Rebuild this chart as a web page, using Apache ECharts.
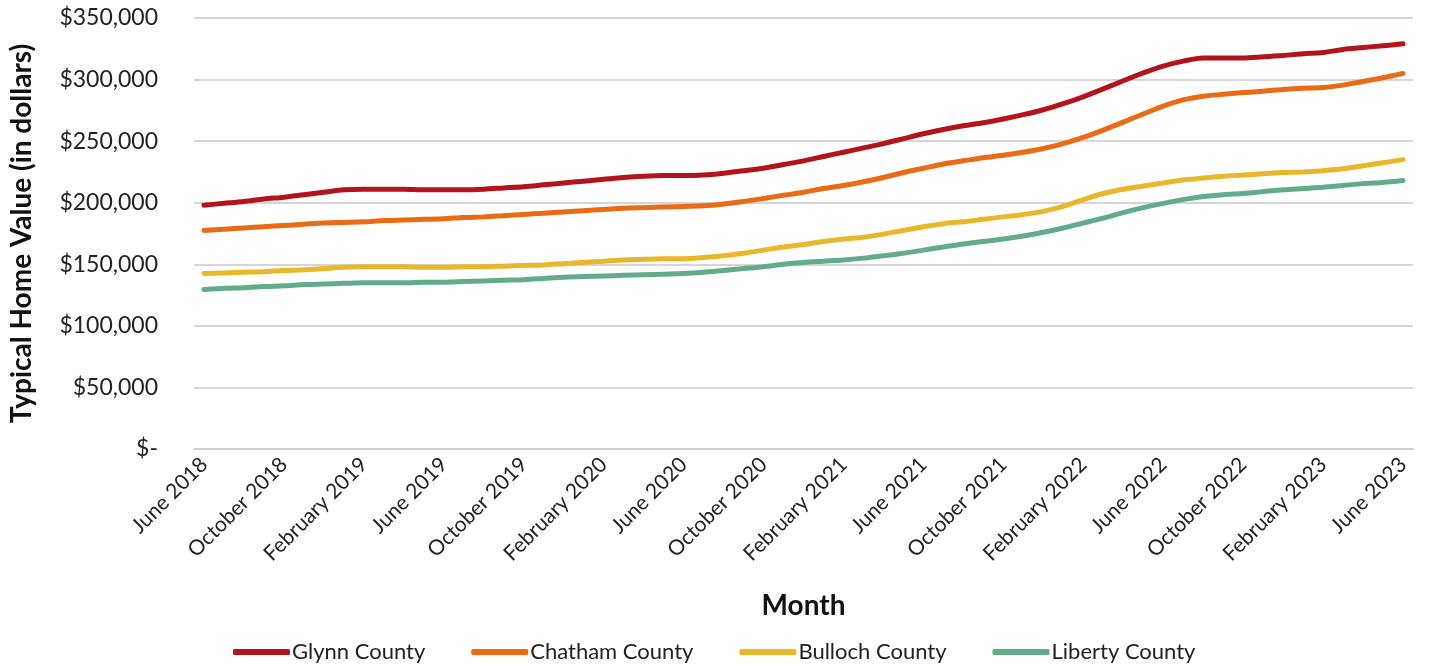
<!DOCTYPE html>
<html>
<head>
<meta charset="utf-8">
<script src="https://cdn.jsdelivr.net/npm/echarts@6/dist/echarts.min.js"></script>
<style>
  html, body { margin: 0; padding: 0; background: #fff; }
  #chart { width: 1442px; height: 666px; }
</style>
</head>
<body>
<div id="chart"></div>
<script>
// months, June 2018 - June 2023
const months = [
  'June 2018', 'July 2018', 'August 2018', 'September 2018', 'October 2018', 'November 2018', 'December 2018',
  'January 2019', 'February 2019', 'March 2019', 'April 2019', 'May 2019', 'June 2019', 'July 2019',
  'August 2019', 'September 2019', 'October 2019', 'November 2019', 'December 2019',
  'January 2020', 'February 2020', 'March 2020', 'April 2020', 'May 2020', 'June 2020', 'July 2020',
  'August 2020', 'September 2020', 'October 2020', 'November 2020', 'December 2020',
  'January 2021', 'February 2021', 'March 2021', 'April 2021', 'May 2021', 'June 2021', 'July 2021',
  'August 2021', 'September 2021', 'October 2021', 'November 2021', 'December 2021',
  'January 2022', 'February 2022', 'March 2022', 'April 2022', 'May 2022', 'June 2022', 'July 2022',
  'August 2022', 'September 2022', 'October 2022', 'November 2022', 'December 2022',
  'January 2023', 'February 2023', 'March 2023', 'April 2023', 'May 2023', 'June 2023'
]

const seriesNames = ['Glynn County', 'Chatham County', 'Bulloch County', 'Liberty County']

const glynn = [
  198000, 199500, 201000, 203000, 204500, 206500, 208500, 210500, 211000, 211000,
  211000, 210500, 210500, 210500, 211000, 212000, 213000, 214500, 216000, 217500,
  219000, 220500, 221500, 222000, 222000, 222500, 224000, 226000, 228000, 231000,
  234000, 237500, 241000, 244500, 248000, 252000, 256000, 259500, 262500, 265000,
  268000, 271500, 275500, 280500, 286000, 292500, 299000, 305500, 311000, 315000,
  317500, 317500, 317500, 318500, 319500, 321000, 322000, 324500, 326000, 327500,
  329000
]

const chatham = [
  177500, 178500, 179500, 180500, 181500, 182500, 183500, 184000, 184500, 185500,
  186000, 186500, 187000, 188000, 188500, 189500, 190500, 191500, 192500, 193500,
  194500, 195500, 196000, 196500, 197000, 197500, 199000, 201000, 203500, 206000,
  208500, 211500, 214000, 217000, 220500, 224500, 228000, 231500, 234000, 236500,
  238500, 241000, 244000, 248000, 253000, 259000, 265500, 272000, 278500, 283500,
  286500, 288000, 289500, 290500, 292000, 293000, 293500, 295500, 298500, 301500,
  305000
]

const bulloch = [
  142500, 143000, 143500, 144000, 145000, 145500, 146500, 147500, 148000, 148000,
  148000, 147500, 147500, 148000, 148000, 148500, 149000, 149500, 150500, 151500,
  152500, 153500, 154000, 154500, 154500, 155500, 157000, 159000, 161500, 164000,
  166000, 168500, 170500, 172000, 174500, 177500, 180500, 183000, 184500, 186500,
  188500, 190500, 193000, 197000, 202500, 207500, 211000, 213500, 216000, 218500,
  220000, 221500, 222500, 223500, 224500, 225000, 226000, 227500, 230000, 232500,
  235000
]

const liberty = [
  129500, 130500, 131000, 132000, 132500, 133500, 134000, 134500, 135000, 135000,
  135000, 135500, 135500, 136000, 136500, 137000, 137500, 138500, 139500, 140000,
  140500, 141000, 141500, 142000, 142500, 143500, 145000, 146500, 148000, 150000,
  151500, 152500, 153500, 155000, 157000, 159000, 161500, 164000, 166500, 168500,
  170500, 173000, 176000, 179500, 183500, 187500, 192000, 196000, 199500, 202500,
  205000, 206500, 207500, 209000, 210500, 211500, 212500, 214000, 215500, 216500,
  218000
]

const colors = ['#B3141B', '#EB6A14', '#E8B82A', '#62AC8A']

function money (v) {
  if (v === 0) return '$-'
  return '$' + v.toLocaleString('en-US')
}

let myChart = echarts.init(document.getElementById('chart'), null, { renderer: 'canvas' })
const font = 'Lato, "Noto Sans", sans-serif'

let option = {
  animation: false,
  color: colors,
  textStyle: { fontFamily: font },
  grid: { left: 189, right: 29, top: 18, bottom: 217, containLabel: false },
  legend: {
    data: seriesNames,
    left: 228,
    top: 636,
    icon: 'roundRect',
    itemWidth: 57,
    itemHeight: 6,
    itemGap: 46,
    textStyle: { fontFamily: font, fontSize: 22, color: '#222', padding: [0, 0, 0, -3] }
  },
  xAxis: {
    type: 'category',
    data: months,
    boundaryGap: true,
    name: 'Month',
    nameLocation: 'middle',
    nameGap: 143,
    nameTextStyle: { fontFamily: font, fontSize: 28, fontWeight: 'bold', color: '#111' },
    axisLine: { lineStyle: { color: '#d0d0d0', width: 2 } },
    axisTick: { interval: 3, length: 7, lineStyle: { color: '#d0d0d0', width: 2 } },
    axisLabel: {
      interval: 3,
      rotate: 45,
      margin: 12,
      fontSize: 21,
      color: '#222',
      fontFamily: font
    }
  },
  yAxis: {
    type: 'value',
    min: 0,
    max: 350000,
    interval: 50000,
    name: 'Typical Home Value (in dollars)',
    nameLocation: 'middle',
    nameGap: 158,
    nameTextStyle: { fontFamily: font, fontSize: 28, fontWeight: 'bold', color: '#111' },
    axisLine: { show: false },
    axisTick: { show: false },
    axisLabel: {
      formatter: money,
      margin: 36,
      fontSize: 23,
      color: '#222',
      fontFamily: font
    },
    splitLine: { lineStyle: { color: '#d6d6d6', width: 2 } }
  },
  series: [
    { name: seriesNames[0], type: 'line', data: glynn },
    { name: seriesNames[1], type: 'line', data: chatham },
    { name: seriesNames[2], type: 'line', data: bulloch },
    { name: seriesNames[3], type: 'line', data: liberty }
  ].map(s => Object.assign(s, {
    smooth: 0.3,
    symbol: 'none',
    lineStyle: { width: 5, cap: 'round', join: 'round' }
  }))
}

option && myChart.setOption(option)
</script>
</body>
</html>
